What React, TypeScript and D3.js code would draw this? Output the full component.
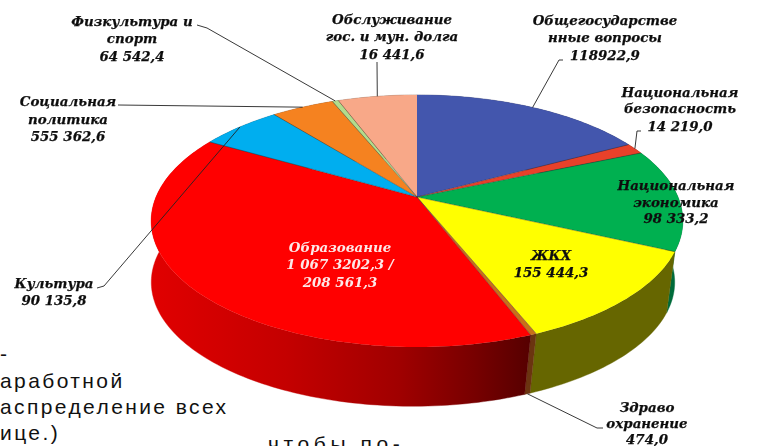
import * as d3 from 'd3';
import * as React from 'react';

const WIDTH = 762;
const HEIGHT = 446;

// slice shares, degrees of the disc (labels do not match them)
const sectors = ['Общегосударственные вопросы', 'Национальная безопасность', 'Национальная экономика', 'ЖКХ', 'Здравоохранение', 'Образование', 'Культура', 'Социальная политика', 'Физкультура и спорт', 'Обслуживание долга'];
const shares = [62, 5.1, 47.4, 43.4, 1.1, 140.7, 21.4, 16.5, 1.6, 20.8];
const topColors = ['#4356ad', '#e8412a', '#00b050', '#ffff00', '#c8701a', '#ff0000', '#00aeef', '#f58220', '#b2dc8c', '#f8a888'];
const wallColors = ['#2a3570', '#8a2618', '#006b3a', '#666600', '#6b3410', 'url(#redWall)', '#006a90', '#94501a', '#6c8654', '#96664f'];

// perspective of the disc
const cx = 417;
const cy = 197;
const A = 261;
const B = 121.5;
const K = 0.19;
// lower rim of the wall
const WALL_DROP = 62;
const WALL_SHIFT = -4;
const WALL_SCALE = 0.985;

const project = (angle: number, r = 1): [number, number] => {
  const u = Math.sin(angle) * r;
  const v = -Math.cos(angle) * r;
  const w = 1 - K * v;
  return [cx + (A * u) / w, cy + (B * v) / w];
};
const projectLow = (angle: number): [number, number] => {
  const [x, y] = project(angle, WALL_SCALE);
  return [x + WALL_SHIFT, y + WALL_DROP];
};

const pie = d3.pie<number>().sort(null);
const slices = pie(shares);
const line = d3.line();

const rim = (a0: number, a1: number) => {
  const n = Math.max(2, Math.ceil((a1 - a0) / 0.02));
  return d3.range(n + 1).map((i) => a0 + ((a1 - a0) * i) / n);
};
const topPath = (s) => line([[cx, cy], ...rim(s.startAngle, s.endAngle).map((a) => project(a))]) + 'Z';
const wallPath = (s) => {
  const angles = rim(s.startAngle, s.endAngle);
  return line([...angles.map((a) => project(a)), ...angles.slice().reverse().map(projectLow)]) + 'Z';
};
const mid = (i: number) => (slices[i].startAngle + slices[i].endAngle) / 2;

// text blocks: centre x, baselines, lines
const labels = [
  { x: 132, y: [26, 43, 61], lines: ['Физкультура и', 'спорт', '64 542,4'] },
  { x: 392, y: [24, 41, 59], lines: ['Обслуживание', 'гос. и мун. долга', '16 441,6'] },
  { x: 605, y: [25, 42, 60], lines: ['Общегосударстве', 'нные вопросы', '118922,9'] },
  { x: 680, y: [97, 113, 131], lines: ['Национальная', 'безопасность', '14 219,0'] },
  { x: 676, y: [190, 207, 223], lines: ['Национальная', 'экономика', '98 333,2'] },
  { x: 551, y: [260, 277], lines: ['ЖКХ', '155 444,3'] },
  { x: 647, y: [412, 428, 444], lines: ['Здраво', 'охранение', '474,0'] },
  { x: 54, y: [288, 305], lines: ['Культура', '90 135,8'] },
  { x: 68, y: [106, 124, 141], lines: ['Социальная', 'политика', '555 362,6'] },
];
const whiteLabel = { x: 340, y: [252, 269, 287], lines: ['Образование', '1 067 3202,3 /', '208 561,3'] };

// leader elbows, last point comes from the slice itself
const leaders = [
  { pts: [[197, 25], [207, 28]], end: project(mid(8)) },
  { pts: [[377, 62]], end: project(mid(9)) },
  { pts: [[563, 60], [559, 60]], end: project(mid(0)) },
  { pts: [[641, 131], [637, 131]], end: project(mid(1)) },
  { pts: [[118, 105]], end: project(mid(7)) },
  { pts: [[97, 288], [104, 286]], end: project(mid(6)) },
  { pts: [[603, 428], [597, 428]], end: projectLow(mid(4)) },
];

// page text behind the picture
const pageText = [
  { x: 0, y: 361, t: '-', gap: 2.4 },
  { x: 0, y: 388, t: 'аработной', gap: 2.4 },
  { x: 0, y: 414, t: 'аспределение всех', gap: 2.4 },
  { x: 0, y: 440, t: 'ице.)', gap: 2.4 },
  { x: 268, y: 451, t: 'чтобы по-', gap: 4.6 },
];

const labelFont = { fontFamily: '"DejaVu Serif"', fontWeight: 700, fontStyle: 'italic', fontSize: 13.4 };

export default function App() {
  return (
    <svg width={WIDTH} height={HEIGHT} style={{ position: 'absolute', left: 0, top: 0, background: '#fff' }}>
      <defs>
        <linearGradient id="redWall" gradientUnits="userSpaceOnUse" x1="155" x2="530" y1="0" y2="0">
          <stop offset="0%" stopColor="#e00000" />
          <stop offset="35%" stopColor="#c40000" />
          <stop offset="65%" stopColor="#a00000" />
          <stop offset="85%" stopColor="#780000" />
          <stop offset="100%" stopColor="#560000" />
        </linearGradient>
        <filter id="soft" x="-5%" y="-5%" width="110%" height="110%">
          <feGaussianBlur stdDeviation="0.35" />
        </filter>
      </defs>

      <g>
        {pageText.map((d) => (
          <text key={d.t} x={d.x} y={d.y} fontFamily='"Liberation Sans"' fontSize={21} letterSpacing={d.gap} fill="#111">
            {d.t}
          </text>
        ))}
      </g>

      <g>
        {slices.map((s, i) => (
          <path key={sectors[i] + '-wall'} d={wallPath(s)} fill={wallColors[i]} stroke={wallColors[i]} strokeWidth={0.4} />
        ))}
        {slices.map((s, i) => (
          <path key={sectors[i]} d={topPath(s)} fill={topColors[i]} />
        ))}
        {slices.slice(1).map((s, i) => (
          <path key={i} d={line([[cx, cy], project(s.startAngle)])} stroke="#222" strokeOpacity={0.45} strokeWidth={0.8} fill="none" />
        ))}
      </g>

      <g fill="none" stroke="#222" strokeWidth={0.9}>
        {leaders.map((l, i) => (
          <path key={i} d={line([...l.pts, l.end])} />
        ))}
      </g>

      <g textAnchor="middle" style={labelFont} filter="url(#soft)">
        {labels.map((l) =>
          l.lines.map((t, i) => (
            <text key={t + l.x} x={l.x} y={l.y[i]} fill="#111" stroke="#111" strokeWidth={0.25}>
              {t}
            </text>
          ))
        )}
        {whiteLabel.lines.map((t, i) => (
          <text key={t} x={whiteLabel.x} y={whiteLabel.y[i]} fill="#fde8e8">
            {t}
          </text>
        ))}
      </g>
    </svg>
  );
}
